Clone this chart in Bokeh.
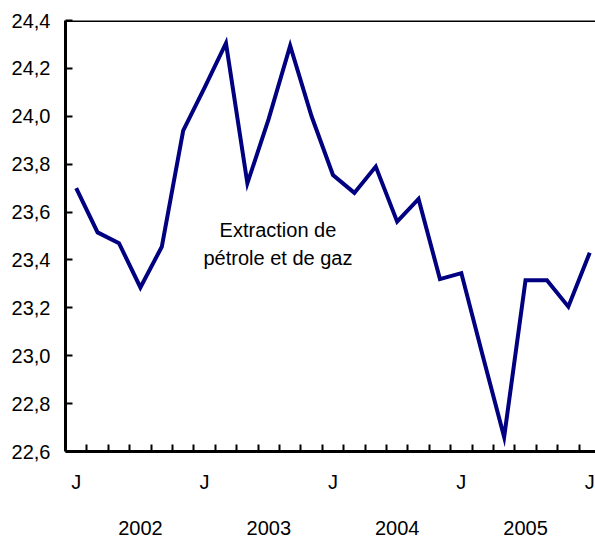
from bokeh.plotting import figure
from bokeh.models import (LinearAxis, FixedTicker, CustomJSTickFormatter, Span,
                          Label, Range1d, ColumnDataSource)
from bokeh.embed import file_html
from bokeh.resources import INLINE

# ---- data (bi-monthly, Jan 2002 - Jan 2006) ----
periods = ["2002-01", "2002-03", "2002-05", "2002-07", "2002-09", "2002-11",
           "2003-01", "2003-03", "2003-05", "2003-07", "2003-09", "2003-11",
           "2004-01", "2004-03", "2004-05", "2004-07", "2004-09", "2004-11",
           "2005-01", "2005-03", "2005-05", "2005-07", "2005-09", "2005-11",
           "2006-01"]
values = [23.70, 23.515, 23.47, 23.285, 23.455, 23.94,
          24.12, 24.305, 23.72, 23.99, 24.295, 24.00,
          23.755, 23.68, 23.79, 23.56, 23.655, 23.32,
          23.345, 23.00, 22.66, 23.315, 23.315, 23.205,
          23.43]
y_ticks = [22.6, 22.8, 23.0, 23.2, 23.4, 23.6, 23.8, 24.0, 24.2, 24.4]
j_positions = [0, 6, 12, 18, 24]
j_labels = ["J", "J", "J", "J", "J"]
year_positions = [3, 9, 15, 21]
year_labels = ["2002", "2003", "2004", "2005"]
annotation_lines = ["Extraction de", "pétrole et de gaz"]

FONT = "Liberation Sans"
FS = "20px"

xs = list(range(len(periods)))
src = ColumnDataSource(dict(x=xs, y=values, period=periods))

p = figure(width=595, height=537, output_backend="svg", toolbar_location=None,
           x_range=Range1d(-0.5, 24.27), y_range=Range1d(22.6, 24.4),
           x_axis_location=None, y_axis_location=None,
           min_border_left=65, min_border_right=0, min_border_top=20,
           min_border_bottom=85)
p.grid.visible = False
p.outline_line_color = None
p.background_fill_color = "white"
p.border_fill_color = "white"

yaxis = LinearAxis(
    ticker=FixedTicker(ticks=y_ticks),
    formatter=CustomJSTickFormatter(code="return tick.toFixed(1).replace('.', ',');"),
    axis_line_width=3, axis_line_color="black",
    major_tick_in=7, major_tick_out=0, major_tick_line_width=2,
    minor_tick_line_color=None,
    major_label_standoff=15,
    major_label_text_font=FONT, major_label_text_font_size=FS,
    major_label_text_color="black")
p.add_layout(yaxis, "left")

xaxis = LinearAxis(
    ticker=FixedTicker(ticks=j_positions, minor_ticks=[i + 0.5 for i in range(24)]),
    major_label_overrides=dict(zip(j_positions, j_labels)),
    axis_line_width=3, axis_line_color="black",
    major_tick_line_color=None,
    minor_tick_in=7, minor_tick_out=0, minor_tick_line_width=2,
    minor_tick_line_color="black",
    major_label_standoff=13,
    major_label_text_font=FONT, major_label_text_font_size=FS,
    major_label_text_color="black")
p.add_layout(xaxis, "below")

yearaxis = LinearAxis(
    ticker=FixedTicker(ticks=year_positions),
    major_label_overrides=dict(zip(year_positions, year_labels)),
    axis_line_color=None, major_tick_line_color=None, minor_tick_line_color=None,
    major_label_standoff=19,
    major_label_text_font=FONT, major_label_text_font_size=FS,
    major_label_text_color="black")
p.add_layout(yearaxis, "below")

p.add_layout(Span(location=24.4, dimension="width", line_color="black", line_width=3))

p.line("x", "y", source=src, line_color="#000080", line_width=4, line_join="miter")

for txt, yy in zip(annotation_lines, [23.525, 23.408]):
    p.add_layout(Label(x=9.43, y=yy, text=txt, text_align="center",
                       text_baseline="alphabetic", text_font=FONT,
                       text_font_size=FS, text_color="black"))

open("out.html", "w").write(file_html(p, INLINE))
